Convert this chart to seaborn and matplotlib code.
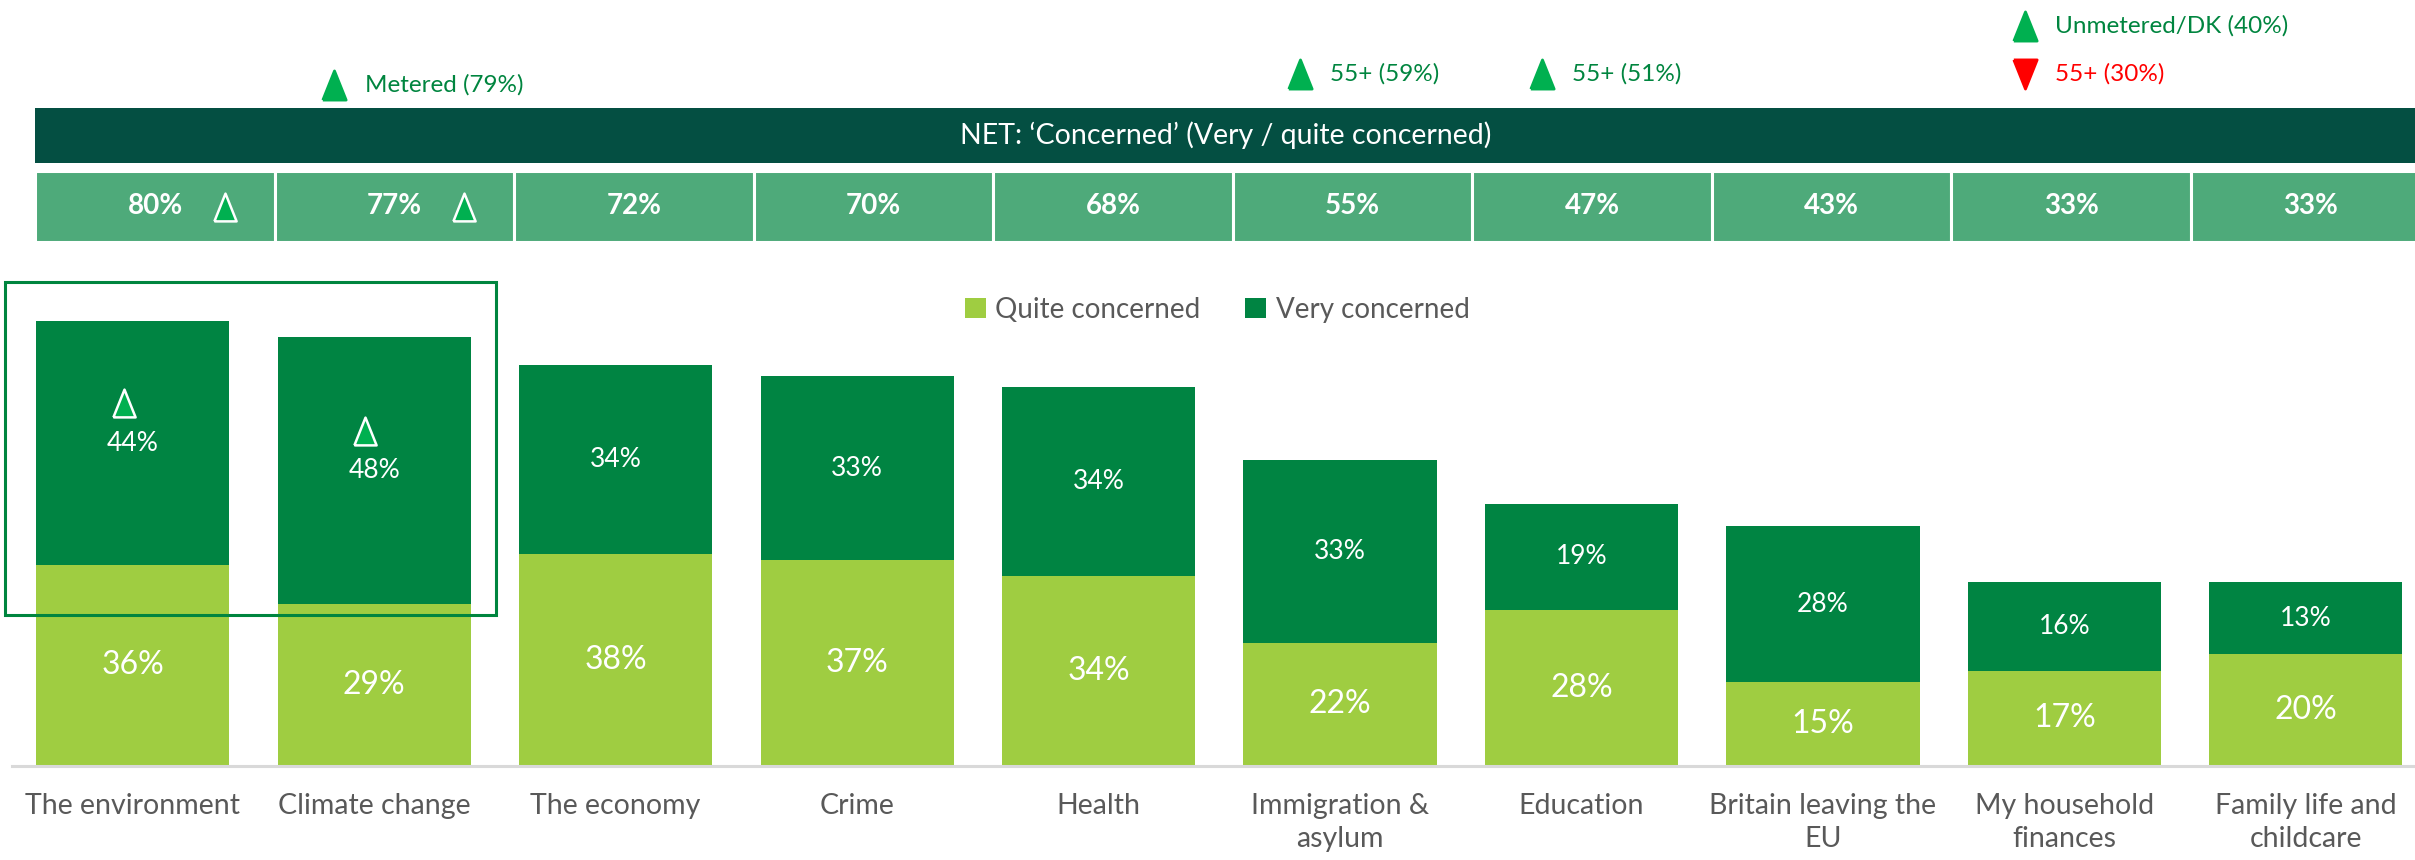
import matplotlib
matplotlib.use("Agg")
import matplotlib.pyplot as plt
import matplotlib.transforms as mtransforms
from matplotlib.patches import Rectangle, Patch
import pandas as pd
import seaborn as sns

# ---- data ---------------------------------------------------------------
categories = ["The environment", "Climate change", "The economy", "Crime", "Health",
              "Immigration &\nasylum", "Education", "Britain leaving the\nEU",
              "My household\nfinances", "Family life and\nchildcare"]
quite_concerned = [36, 29, 38, 37, 34, 22, 28, 15, 17, 20]
very_concerned = [44, 48, 34, 33, 34, 33, 19, 28, 16, 13]
net_concerned = [80, 77, 72, 70, 68, 55, 47, 43, 33, 33]
net_sig_up = [True, True, False, False, False, False, False, False, False, False]
very_sig_up = [True, True, False, False, False, False, False, False, False, False]

# subgroup call-outs above the NET strip
note_cols = [1, 5, 6, 8, 8]
note_texts = ["Metered (79%)", "55+ (59%)", "55+ (51%)", "Unmetered/DK (40%)", "55+ (30%)"]
note_dirs = ["up", "up", "up", "up", "down"]

# ---- style --------------------------------------------------------------
QUITE = "#9fcd41"
VERY = "#008442"
DARK = "#044f42"
CELL = "#4eaa7a"
GREY_TXT = "#595959"
SIG_GREEN = "#00b050"
NOTE_GREEN = "#00853f"
RED = "#ff0000"

sns.set_theme(style="white")
plt.rcParams["font.family"] = ["Lato", "DejaVu Sans"]

W, H = 2415, 860
fig = plt.figure(figsize=(W / 100, H / 100), dpi=100)

UP_TRI = [(-0.4, -0.5), (0.4, -0.5), (0.0, 0.5), (-0.4, -0.5)]
DOWN_TRI = [(-0.4, 0.5), (0.4, 0.5), (0.0, -0.5), (-0.4, 0.5)]

# ---- main stacked bars --------------------------------------------------
ax = fig.add_axes([12 / W, 1 - 765.5 / H, 1 - 12 / W, 500.4 / H])
df = pd.DataFrame({"topic": categories, "quite": quite_concerned, "very": very_concerned})
df["total"] = df["quite"] + df["very"]

sns.barplot(data=df, x="topic", y="total", color=VERY, width=0.8, saturation=1,
            edgecolor="none", ax=ax)
sns.barplot(data=df, x="topic", y="quite", color=QUITE, width=0.8, saturation=1,
            edgecolor="none", ax=ax)

ax.set_xlim(-0.5, 9.452)
ax.set_ylim(0, 90)
ax.set_xlabel("")
ax.set_ylabel("")
ax.set_yticks([])
for side in ["left", "right", "top"]:
    ax.spines[side].set_visible(False)
ax.spines["bottom"].set_color("#d9d9d9")
ax.spines["bottom"].set_linewidth(2.2)
ax.tick_params(axis="x", length=0, pad=20, labelsize=20.5, labelcolor=GREY_TXT)
for lbl in ax.get_xticklabels():
    lbl.set_linespacing(1.32)

for i, (q, v) in enumerate(zip(df["quite"], df["very"])):
    ax.text(i, q / 2, f"{q}%", ha="center", va="center", color="white", fontsize=23)
    ax.text(i, q + v / 2, f"{v}%", ha="center", va="center", color="white", fontsize=19)
    if very_sig_up[i]:
        off = mtransforms.ScaledTranslation(-9 / 100, 29 / 72, fig.dpi_scale_trans)
        ax.plot([i], [q + v / 2], marker=UP_TRI, markersize=20, color=SIG_GREEN,
                markeredgecolor="white", markeredgewidth=1.8, linestyle="none",
                transform=ax.transData + off, clip_on=False)

# highlight box around the first two topics
box_top = max(df["total"][:2]) + 7
box_bottom = min(df["quite"][:2]) - 2
ax.add_patch(Rectangle((-0.53, box_bottom), 2.035, box_top - box_bottom, fill=False,
                       edgecolor=NOTE_GREEN, linewidth=2.2, clip_on=False))

handles = [Patch(facecolor=QUITE, edgecolor="none"), Patch(facecolor=VERY, edgecolor="none")]
leg = ax.legend(handles, ["Quite concerned", "Very concerned"], loc="center",
                bbox_to_anchor=(0.504, 0.640), bbox_transform=fig.transFigure, ncol=2,
                frameon=False, fontsize=20, handlelength=0.75, handleheight=0.75,
                handletextpad=0.35, columnspacing=1.6)
for t in leg.get_texts():
    t.set_color(GREY_TXT)

# ---- NET header ---------------------------------------------------------
ax_head = fig.add_axes([35.4 / W, 1 - 163.2 / H, 1 - 35.4 / W, 55.4 / H])
ax_head.set_facecolor(DARK)
ax_head.set_xticks([])
ax_head.set_yticks([])
for s in ax_head.spines.values():
    s.set_visible(False)
ax_head.text(0.5, 0.5, "NET: \u2018Concerned\u2019 (Very / quite concerned)", ha="center",
             va="center", color="white", fontsize=20.5, transform=ax_head.transAxes)

# ---- NET value strip ----------------------------------------------------
ax_net = fig.add_axes([35.4 / W, 1 - 242 / H, 10 * 239.5 / W, 71 / H])
ax_net.bar(range(len(net_concerned)), [1] * len(net_concerned), width=1, bottom=0,
           color=CELL, edgecolor="white", linewidth=2.2)
ax_net.set_xlim(-0.5, len(net_concerned) - 0.5)
ax_net.set_ylim(0, 1)
ax_net.axis("off")
for i, n in enumerate(net_concerned):
    ax_net.text(i, 0.5, f"{n}%", ha="center", va="center", color="white",
                fontsize=20, fontweight="bold")
    if net_sig_up[i]:
        ax_net.plot([i + 0.29], [0.5], marker=UP_TRI, markersize=20, color=SIG_GREEN,
                    markeredgecolor="white", markeredgewidth=1.8, linestyle="none")

# ---- subgroup notes -----------------------------------------------------
blend = mtransforms.blended_transform_factory(ax.transData, fig.transFigure)
note_rows = {}
for col in note_cols:
    note_rows[col] = note_rows.get(col, 0) + 1
seen = {}
for col, txt, d in zip(note_cols, note_texts, note_dirs):
    k = seen.get(col, 0)
    seen[col] = k + 1
    level = note_rows[col] - 1 - k
    y = (0.914 if note_rows[col] > 1 or col != 1 else 0.901) + 0.056 * level
    colr = SIG_GREEN if d == "up" else RED
    tcol = NOTE_GREEN if d == "up" else RED
    ax.plot([col - 0.165], [y], marker=UP_TRI if d == "up" else DOWN_TRI, markersize=21,
            color=colr, markeredgecolor=colr, markeredgewidth=2, linestyle="none",
            transform=blend, clip_on=False)
    ax.text(col - 0.04, y, txt, ha="left", va="center", color=tcol, fontsize=17.5,
            transform=blend)

fig.savefig("out.png", dpi=100)
